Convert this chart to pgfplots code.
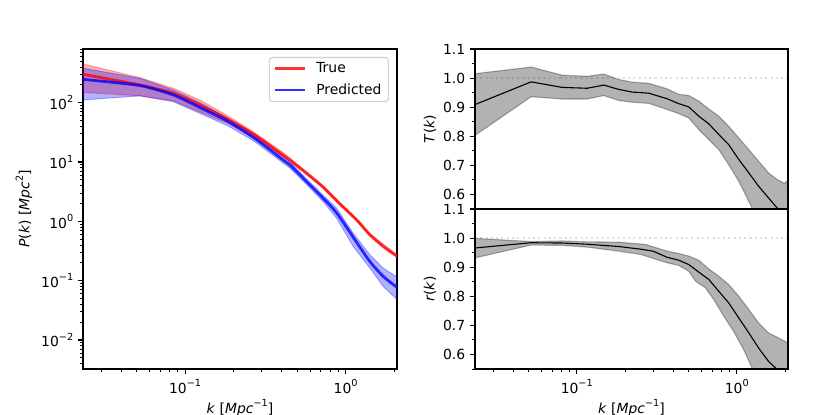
\documentclass[border=0pt]{standalone}
\usepackage{pgfplots}
\usepackage{fontspec}
\setmainfont{DejaVu Sans}
\pgfplotsset{compat=1.18}
\definecolor{lr}{rgb}{1,0,0}
\definecolor{lb}{rgb}{0,0,1}
\newcommand\tp[1]{10\raisebox{0.47em}{\scriptsize #1}}
\pgfplotsset{legend image code/.code={\draw[#1,line width=1.5pt] (0pt,0pt) -- (22pt,0pt);\path (27pt,0pt);}}
\tikzset{
  bnd/.style={draw=black, draw opacity=0.3, fill=black, fill opacity=0.3, line width=0.8pt},
  rfl/.style={black, opacity=0.13, line width=1.5pt, dash pattern=on 1.5pt off 2.3pt},
  mnl/.style={black, line width=0.8pt},
}
\begin{document}
\begin{tikzpicture}
\path[use as bounding box] (0pt,0pt) rectangle (597.6pt,298.8pt);
\begin{loglogaxis}[scale only axis, anchor=south west, xmin=0.0231, xmax=2.09,
  axis line style={line width=0.8pt}, tick align=outside,
  xtick pos=bottom, ytick pos=left,
  major tick length=3.5pt, minor tick length=2pt,
  tick style={black,line width=0.8pt}, minor tick style={black,line width=0.6pt},
  tick label style={font=\fontsize{10}{12}\selectfont},
  xticklabel style={yshift=-0.7pt},
  label style={font=\fontsize{10}{12}\selectfont},
  xtick={0.1,1}, xticklabels={\tp{−1},\tp{0}},
  minor xtick={0.03,0.04,0.05,0.06,0.07,0.08,0.09,0.2,0.3,0.4,0.5,0.6,0.7,0.8,0.9,2},
  at={(59.76pt,33.12pt)}, width=226.08pt, height=230.4pt,
  ymin=0.00325, ymax=802,
  ytick={0.01,0.1,1,10,100}, yticklabels={\tp{−2},\tp{−1},\tp{0},\tp{1},\tp{2}},
  minor ytick={0.004,0.005,0.006,0.007,0.008,0.009,0.02,0.03,0.04,0.05,0.06,0.07,0.08,0.09,0.2,0.3,0.4,0.5,0.6,0.7,0.8,0.9,2,3,4,5,6,7,8,9,20,30,40,50,60,70,80,90,200,300,400,500,600,700,800},
  xlabel={\textit{k} [\textit{Mpc}\raisebox{0.47em}{\scriptsize −1}]},
  ylabel={\textit{P}(\textit{k}) [\textit{Mpc}\raisebox{0.47em}{\scriptsize 2}]},
  every axis x label/.style={at={(axis description cs:0.5,-0.122)},anchor=center},
  every axis y label/.style={at={(axis description cs:-0.188,0.5)},rotate=90,anchor=center},
  legend style={at={(0.9745,0.975)},anchor=north east, draw=black!18, rounded corners=2pt,
    fill=white, fill opacity=0.8, text opacity=1, line width=0.8pt,
    font=\fontsize{10}{12}\selectfont, row sep=2.7pt, inner xsep=3pt, inner ysep=1.5pt},
  legend cell align=left]
% true band
\addplot[draw=lr, draw opacity=0.3, fill=lr, fill opacity=0.3, line width=0.7pt, forget plot] coordinates {
(0.0231,449)(0.0523,264)(0.0843,175)(0.1236,111)(0.1856,59.5)(0.272,31)(0.408,14.5)(0.571,6.75)(0.725,3.92)(0.921,2.05)(1.171,1.1)(1.417,0.62)(2.09,0.275)
(2.09,0.25)(1.417,0.57)(1.171,1.02)(0.921,1.89)(0.725,3.62)(0.571,6.2)(0.408,12.2)(0.272,25)(0.1856,44.7)(0.1236,70)(0.0843,107)(0.0523,130)(0.0231,149)} -- cycle;
% predicted band
\addplot[draw=lb, draw opacity=0.3, fill=lb, fill opacity=0.3, line width=0.7pt, forget plot] coordinates {
(0.0231,380)(0.0523,257)(0.0843,163)(0.1236,100)(0.1856,54.5)(0.272,28.5)(0.408,12.6)(0.45,10)(0.571,5.2)(0.725,2.75)(0.879,1.67)(1.115,0.632)(1.417,0.273)(1.716,0.163)(2.09,0.115)
(2.09,0.048)(1.716,0.08)(1.417,0.163)(1.115,0.377)(0.879,1.13)(0.725,2.15)(0.571,4.2)(0.45,7.9)(0.408,9.6)(0.272,22)(0.1856,40.5)(0.1236,66)(0.0843,104)(0.0523,130)(0.0231,111)} -- cycle;
\addplot[lr, opacity=0.8, line width=2pt, smooth, tension=0.4] coordinates {
(0.0231,300)(0.0523,199)(0.0843,144)(0.1236,91)(0.1856,52)(0.272,28.5)(0.408,13)(0.45,10.8)(0.571,6.47)(0.725,3.77)(0.921,1.97)(1.171,1.06)(1.417,0.593)(1.716,0.377)(2.03,0.273)(2.09,0.263)};
\addlegendentry{True}
\addplot[lb, opacity=0.8, line width=2pt, smooth, tension=0.4] coordinates {
(0.0231,247)(0.0523,194)(0.0843,135)(0.1236,83)(0.1856,48)(0.272,25)(0.408,10.8)(0.45,8.93)(0.571,4.68)(0.725,2.45)(0.879,1.39)(1.143,0.489)(1.417,0.21)(1.716,0.118)(2.03,0.082)(2.09,0.079)};
\addlegendentry{Predicted}
\end{loglogaxis}
% T(k)
\begin{semilogxaxis}[scale only axis, anchor=south west, xmin=0.0231, xmax=2.09,
  axis line style={line width=0.8pt}, tick align=outside,
  xtick pos=bottom, ytick pos=left,
  major tick length=3.5pt, minor tick length=2pt,
  tick style={black,line width=0.8pt}, minor tick style={black,line width=0.6pt},
  tick label style={font=\fontsize{10}{12}\selectfont},
  label style={font=\fontsize{10}{12}\selectfont},
  width=225.36pt, height=115.2pt, ymin=0.55, ymax=1.1,
  ytick={0.6,0.7,0.8,0.9,1.0,1.1}, yticklabels={0.6,0.7,0.8,0.9,1.0,1.1},
  minor ytick={0.55,0.65,0.75,0.85,0.95,1.05},
  every axis y label/.style={at={(axis description cs:-0.144,0.5)},rotate=90,anchor=center},
  at={(342pt,148.32pt)}, xtick=\empty, minor xtick={},
  ylabel={\textit{T}(\textit{k})}]
\addplot[bnd] coordinates {
(0.0231,1.015)(0.0518,1.038)(0.081,1.010)(0.116,1.006)(0.1475,1.014)(0.183,0.995)(0.222,0.986)(0.282,0.982)(0.367,0.963)(0.434,0.944)(0.501,0.94)(0.579,0.921)(0.668,0.894)(0.772,0.869)(0.891,0.834)(1.03,0.794)(1.19,0.754)(1.37,0.714)(1.58,0.674)(1.79,0.651)(2.0,0.637)(2.03,0.645)(2.09,0.64)
(2.09,0.41)(1.79,0.45)(1.247,0.553)(1.16,0.588)(1.03,0.645)(0.891,0.702)(0.772,0.754)(0.668,0.789)(0.579,0.823)(0.501,0.863)(0.434,0.878)(0.367,0.892)(0.282,0.913)(0.222,0.917)(0.183,0.923)(0.1475,0.94)(0.116,0.928)(0.081,0.928)(0.0518,0.936)(0.0231,0.803)} -- cycle;
\addplot[rfl] coordinates {(0.0231,1)(2.09,1)};
\addplot[mnl] coordinates {
(0.0231,0.909)(0.0518,0.987)(0.081,0.968)(0.116,0.965)(0.1475,0.976)(0.183,0.961)(0.222,0.952)(0.282,0.948)(0.367,0.929)(0.434,0.912)(0.501,0.901)(0.579,0.869)(0.668,0.843)(0.772,0.806)(0.891,0.771)(1.03,0.72)(1.19,0.674)(1.37,0.628)(1.58,0.588)(1.79,0.553)(2.09,0.50)};
\end{semilogxaxis}
% r(k)
\begin{semilogxaxis}[scale only axis, anchor=south west, xmin=0.0231, xmax=2.09,
  axis line style={line width=0.8pt}, tick align=outside,
  xtick pos=bottom, ytick pos=left,
  major tick length=3.5pt, minor tick length=2pt,
  tick style={black,line width=0.8pt}, minor tick style={black,line width=0.6pt},
  tick label style={font=\fontsize{10}{12}\selectfont},
  xticklabel style={yshift=-0.7pt},
  label style={font=\fontsize{10}{12}\selectfont},
  width=225.36pt, height=115.2pt, ymin=0.55, ymax=1.1,
  ytick={0.6,0.7,0.8,0.9,1.0,1.1}, yticklabels={0.6,0.7,0.8,0.9,1.0,1.1},
  minor ytick={0.55,0.65,0.75,0.85,0.95,1.05},
  every axis y label/.style={at={(axis description cs:-0.144,0.5)},rotate=90,anchor=center},
  xtick={0.1,1}, xticklabels={\tp{−1},\tp{0}},
  minor xtick={0.03,0.04,0.05,0.06,0.07,0.08,0.09,0.2,0.3,0.4,0.5,0.6,0.7,0.8,0.9,2},
  at={(342pt,33.12pt)},
  xlabel={\textit{k} [\textit{Mpc}\raisebox{0.47em}{\scriptsize −1}]},
  every axis x label/.style={at={(axis description cs:0.5,-0.244)},anchor=center},
  ylabel={\textit{r}(\textit{k})}]
\addplot[bnd] coordinates {
(0.0231,0.999)(0.0518,0.988)(0.081,0.99)(0.116,0.987)(0.183,0.986)(0.27,0.978)(0.367,0.955)(0.434,0.947)(0.501,0.938)(0.579,0.924)(0.668,0.894)(0.772,0.869)(0.891,0.84)(1.03,0.80)(1.19,0.754)(1.37,0.708)(1.58,0.674)(1.82,0.657)(2.09,0.639)
(2.09,0.43)(1.247,0.553)(1.106,0.616)(0.957,0.679)(0.83,0.731)(0.718,0.789)(0.637,0.829)(0.552,0.852)(0.501,0.886)(0.434,0.906)(0.367,0.915)(0.25,0.944)(0.183,0.955)(0.116,0.969)(0.081,0.975)(0.0518,0.976)(0.0231,0.932)} -- cycle;
\addplot[rfl] coordinates {(0.0231,1)(2.09,1)};
\addplot[mnl] coordinates {
(0.0231,0.966)(0.0518,0.984)(0.081,0.983)(0.116,0.979)(0.183,0.971)(0.25,0.962)(0.30,0.955)(0.367,0.934)(0.434,0.924)(0.501,0.909)(0.579,0.883)(0.668,0.858)(0.772,0.817)(0.891,0.777)(1.03,0.725)(1.19,0.674)(1.37,0.622)(1.58,0.576)(1.75,0.553)(2.09,0.51)};
\end{semilogxaxis}
\end{tikzpicture}
\end{document}
